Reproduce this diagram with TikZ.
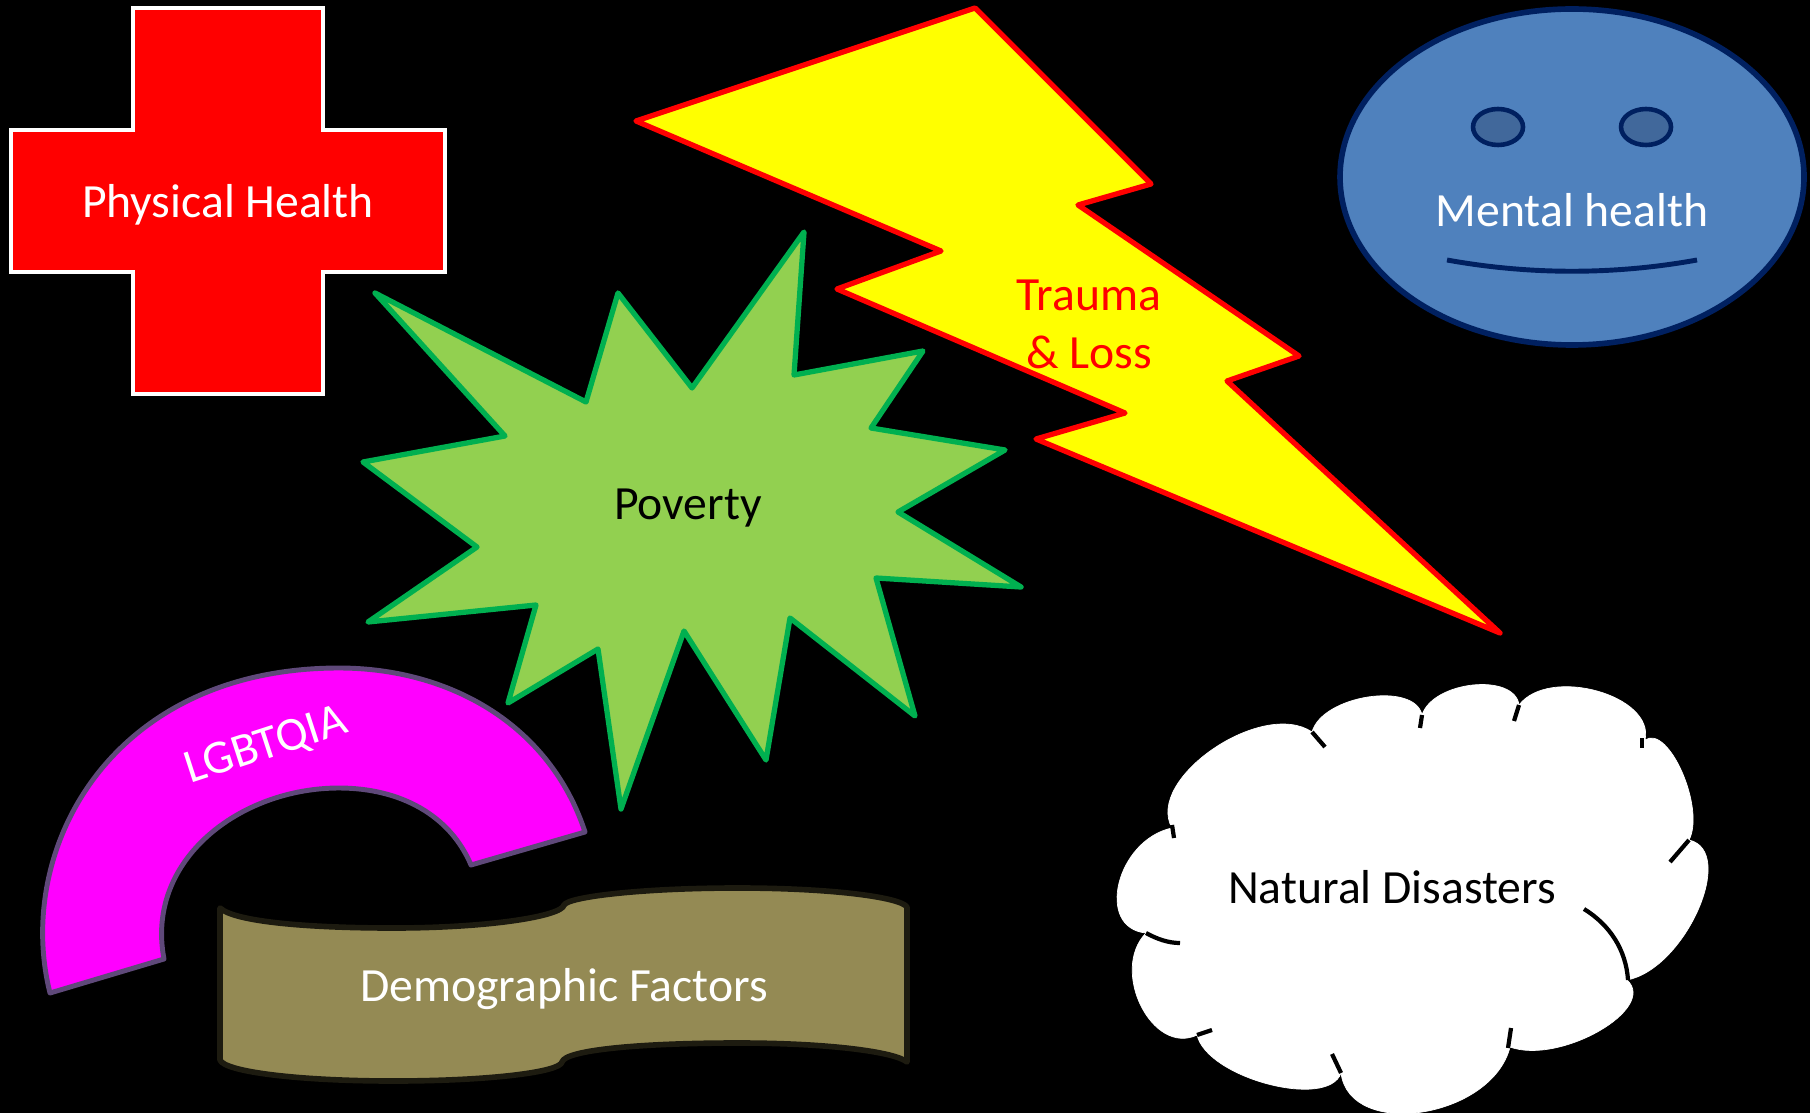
\documentclass[tikz,border=0pt]{standalone}
\usepackage{fontspec}
\setmainfont{Carlito}
\usetikzlibrary{math}
\definecolor{boltyellow}{RGB}{255,255,0}
\definecolor{arcpink}{RGB}{255,0,255}
\definecolor{faceblue}{HTML}{4F81BD}
\definecolor{navy}{HTML}{002060}
\definecolor{eyeblue}{HTML}{41689B}
\definecolor{leafgreen}{HTML}{92D050}
\definecolor{stargreen}{HTML}{00B050}
\definecolor{arcpurple}{HTML}{5F497A}
\definecolor{bannerfill}{HTML}{948A54}
\definecolor{bannerline}{HTML}{1D1B10}
\tikzset{
  label/.style={font=\fontsize{13.55}{16.4}\selectfont, anchor=base, align=center, inner sep=0pt},
  spiky/.style={line width=1.5pt, line join=round},
  stub/.style={draw=black, line width=1.2pt}
}
\begin{document}
\begin{tikzpicture}[x=0.01cm,y=-0.01cm]
      \useasboundingbox (0,0) rectangle (1810,1113);
      \fill[black] (0,0) rectangle (1810,1113);
      \draw[draw=white, fill=red, line width=1.3pt] (133,8) -- (323,8) -- (323,130) -- (445,130) -- (445,272) -- (323,272) -- (323,394) -- (133,394) -- (133,272) -- (11,272) -- (11,130) -- (133,130) -- cycle;
      \node[label, text=white] (physical) at (228,218) {Physical Health};
      \draw[spiky, draw=red, fill=boltyellow] (975,8) -- (1151,184) -- (1078,205) -- (1299,356) -- (1227,381) -- (1500,633) -- (1036,439) -- (1125,413) -- (837,289) -- (941,251) -- (636,121) -- cycle;
      \draw[spiky, draw=stargreen, fill=leafgreen] (375,293) -- (586,402) -- (618,293) -- (692,388) -- (804,232) -- (794,375) -- (923,351) -- (871,428) -- (1005,450) -- (898,512) -- (1021,587) -- (876,578) -- (915,716) -- (790,618) -- (766,760) -- (684,631) -- (621,809) -- (598,649) -- (508,703) -- (536,605) -- (368,622) -- (477,547) -- (363,462) -- (505,436) -- cycle;
      \node[label] (poverty) at (688,520) {Poverty};
      \node[label, text=red] (trauma) at (1089,311) {Trauma};
      \node[label, text=red] (loss) at (1089,369) {\& Loss};
      \draw[draw=navy, fill=faceblue, line width=1.6pt] (1572,177) ellipse (232 and 168);
      \draw[draw=navy, fill=eyeblue, line width=1.3pt] (1498,127) ellipse (25 and 18);
      \draw[draw=navy, fill=eyeblue, line width=1.3pt] (1646,127) ellipse (25 and 18);
      \draw[draw=navy, line width=1.4pt] (1447,260) .. controls (1530,275) and (1614,275) .. (1697,260);
      \node[label, text=white] (mental) at (1572,227) {Mental health};
      \draw[draw=arcpurple, fill=arcpink, line width=1.4pt, line join=round] (50,993) .. controls (14,850) and (110,668) .. (339,668) .. controls (450,668) and (550,725) .. (585,832) -- (471,865) .. controls (450,815) and (400,788) .. (339,788) .. controls (240,788) and (145,860) .. (164,959) -- cycle;
      \node[label, text=white, rotate=18] (lgbtqia) at (270,758) {LGBTQIA};
      \draw[draw=bannerline, fill=bannerfill, line width=1.6pt, line join=round] (220,908) .. controls (235,922) and (310,928) .. (393,928) .. controls (490,928) and (562,916) .. (564,905) .. controls (568,897) and (640,888) .. (738,888) .. controls (830,888) and (900,897) .. (907,907) -- (907,1062) .. controls (895,1052) and (830,1043) .. (738,1043) .. controls (640,1043) and (565,1050) .. (562,1062) .. controls (560,1072) and (490,1081) .. (393,1081) .. controls (300,1081) and (225,1072) .. (220,1060) -- cycle;
      \node[label, text=white] (demographic) at (564,1001) {Demographic Factors};
      \filldraw[white, line width=0.5pt] (1172,828) -- (1312,732) -- (1422,715) -- (1519,705) -- (1645,740) -- (1689,840) -- (1627,980) -- (1510,1047) -- (1341,1073) -- (1197,1035) -- (1146,933) -- cycle;
      \foreach \ax/\ay/\mx/\my/\bx/\by in {1172/828/1213/749/1312/732, 1312/732/1368/697/1422/715, 1422/715/1473/685/1519/705, 1519/705/1597/691/1645/740, 1645/740/1682/772/1689/840, 1689/840/1698/910/1627/980, 1627/980/1599/1031/1510/1047, 1510/1047/1422/1112/1341/1073, 1341/1073/1268/1084/1197/1035, 1197/1035/1141/1006/1146/933, 1146/933/1119/883/1172/828} {
        \tikzmath{\sx = (8*\mx - \ax - \bx)/6; \sy = (8*\my - \ay - \by)/6; \dx = 0.42*(\bx - \ax); \dy = 0.42*(\by - \ay);}
        \filldraw[white, line width=0.2pt] (\ax,\ay) .. controls (\sx - \dx,\sy - \dy) and (\sx + \dx,\sy + \dy) .. (\bx,\by) -- cycle;
      }
      \foreach \ax/\ay/\bx/\by in {1312/732/1325/747, 1422/715/1420/728, 1519/705/1514/721, 1642/738/1642/748, 1689/840/1670/862, 1511/1028/1508/1048, 1332/1054/1341/1073, 1212/1030/1197/1035, 1172/825/1174/838} {
        \draw[stub] (\ax,\ay) -- (\bx,\by);
      }
      \draw[stub] (1584,909) .. controls (1610,925) and (1626,950) .. (1628,980);
      \draw[stub] (1146,933) .. controls (1157,939) and (1168,943) .. (1180,943);
      \node[label] (disasters) at (1392,903) {Natural Disasters};
\end{tikzpicture}
\end{document}
